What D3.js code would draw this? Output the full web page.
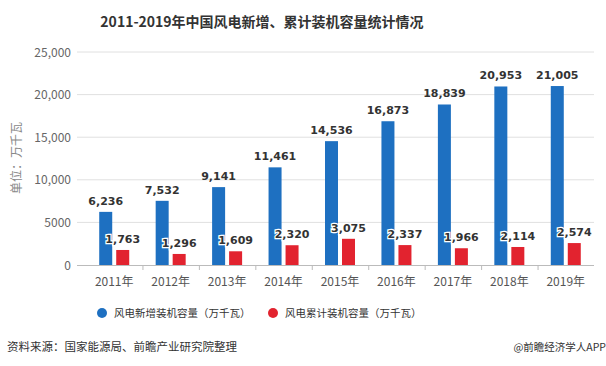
<!DOCTYPE html>
<html><head><meta charset="utf-8">
<script src="https://cdn.jsdelivr.net/npm/d3@7"></script>
<style>
body{margin:0;background:#fff;}
text{font-family:"Noto Sans CJK SC","Noto Sans",sans-serif;}
text.val{font-family:"DejaVu Sans",sans-serif;}
</style></head>
<body>
<svg id="c" width="606" height="366"></svg>
<script>
const years = ["2011年","2012年","2013年","2014年","2015年","2016年","2017年","2018年","2019年"];
const newAdded = [6236,7532,9141,11461,14536,16873,18839,20953,21005];
const cumulative = [1763,1296,1609,2320,3075,2337,1966,2114,2574];
const yTicks = [0,5000,10000,15000,20000,25000];
const seriesNames = ["风电新增装机容量（万千瓦）","风电累计装机容量（万千瓦）"];
const colors = ["#1e70c1","#e2232f"];

const svg = d3.select("#c");
const x = d3.scaleBand().domain(years).range([86,594]);
const y = d3.scaleLinear().domain([0,25000]).range([265,52]);

svg.append("text").attr("x",262).attr("y",27).attr("text-anchor","middle")
  .attr("font-size",14).attr("font-weight","bold").attr("fill","#333")
  .text("2011-2019年中国风电新增、累计装机容量统计情况");

// grid
svg.append("g").selectAll("line").data(yTicks.filter(d=>d>0)).join("line")
  .attr("x1",77).attr("x2",594).attr("y1",d=>y(d)).attr("y2",d=>y(d))
  .attr("stroke","#e0e0e0").attr("stroke-width",1);
// y labels
const fmt = d => d>=10000 ? d3.format(",")(d) : String(d);
svg.append("g").selectAll("text").data(yTicks).join("text")
  .attr("x",71).attr("y",d=>y(d)+4.5).attr("text-anchor","end")
  .attr("font-size",12).attr("fill","#666").text(fmt);
// axis line
svg.append("line").attr("x1",77).attr("x2",594).attr("y1",y(0)+0.5).attr("y2",y(0)+0.5).attr("stroke","#bbb");
svg.append("g").selectAll("line").data(years.slice(1)).join("line")
  .attr("x1",d=>x(d)+0.5).attr("x2",d=>x(d)+0.5).attr("y1",y(0)).attr("y2",y(0)+5).attr("stroke","#bbb");
svg.append("g").selectAll("text").data(years).join("text")
  .attr("x",d=>x(d)+x.bandwidth()/2).attr("y",y(0)+21).attr("text-anchor","middle")
  .attr("font-size",12).attr("fill","#555").text(d=>d);

svg.append("text").attr("transform","translate(21,158) rotate(-90)").attr("text-anchor","middle")
  .attr("font-size",12).attr("fill","#888").text("单位：万千瓦");

const bw = 13, gap = 4;
const bx0 = d => x(d)+x.bandwidth()/2 - bw - gap/2;
const bx1 = d => x(d)+x.bandwidth()/2 + gap/2;
svg.append("g").selectAll("rect").data(years).join("rect")
  .attr("x",bx0).attr("width",bw).attr("y",(d,i)=>y(newAdded[i])).attr("height",(d,i)=>y(0)-y(newAdded[i]))
  .attr("fill",colors[0]);
svg.append("g").selectAll("rect").data(years).join("rect")
  .attr("x",bx1).attr("width",bw).attr("y",(d,i)=>y(cumulative[i])).attr("height",(d,i)=>y(0)-y(cumulative[i]))
  .attr("fill",colors[1]);

svg.append("g").selectAll("text").data(years).join("text").attr("class","val")
  .attr("x",d=>bx0(d)+bw/2).attr("y",(d,i)=>y(newAdded[i])-7).attr("text-anchor","middle")
  .attr("font-size",11).attr("font-weight","bold").attr("fill","#333")
  .text((d,i)=>d3.format(",")(newAdded[i]));
svg.append("g").selectAll("text").data(years).join("text").attr("class","val")
  .attr("x",d=>bx1(d)+bw/2).attr("y",(d,i)=>y(cumulative[i])-7).attr("text-anchor","middle")
  .attr("font-size",11).attr("font-weight","bold").attr("fill","#333")
  .attr("stroke","#fff").attr("stroke-width",2.5).attr("paint-order","stroke")
  .text((d,i)=>d3.format(",")(cumulative[i]));

// legend
const lg = [{cx:102,tx:114},{cx:273,tx:285}];
lg.forEach((p,i)=>{
  svg.append("circle").attr("cx",p.cx).attr("cy",313).attr("r",5).attr("fill",colors[i]);
  svg.append("text").attr("x",p.tx).attr("y",317).attr("font-size",10.5).attr("fill","#333").text(seriesNames[i]);
});

svg.append("text").attr("x",7).attr("y",351).attr("font-size",11.5).attr("fill","#333").text("资料来源：国家能源局、前瞻产业研究院整理");
svg.append("text").attr("x",606).attr("y",351).attr("text-anchor","end").attr("font-size",10.5).attr("fill","#333").text("@前瞻经济学人APP");
</script>
</body></html>
